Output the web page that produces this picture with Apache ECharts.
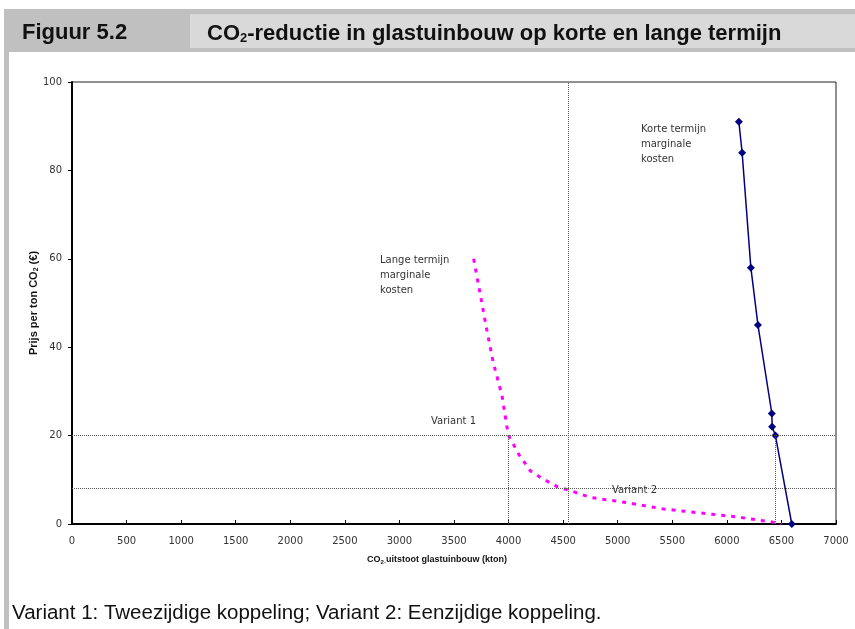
<!DOCTYPE html>
<html>
<head>
<meta charset="utf-8">
<script src="https://cdn.jsdelivr.net/npm/echarts@6/dist/echarts.min.js"></script>
<style>
  html, body { margin: 0; padding: 0; background: #fff; }
  #main { width: 855px; height: 629px; }
</style>
</head>
<body>
<div id="main"></div>
<script>
// korte termijn marginale kosten (kton, euro/ton)
var korteX = [6110, 6140, 6220, 6285, 6412, 6415, 6445, 6595];
var korteY = [91, 84, 58, 45, 25, 22, 20, 0];

// lange termijn marginale kosten
var langeX = [3680, 3740, 3800, 3860, 3940, 3985, 4000, 4100, 4200, 4300, 4450, 4560, 4750, 5040, 5420, 5720, 6090, 6400, 6500];
var langeY = [60, 52, 44, 36.5, 29, 22, 20, 15.5, 12, 10.4, 8.4, 7.6, 6, 5, 3.4, 2.6, 1.6, 0.5, 0];

// hulplijnen (varianten)
var refLines = [
    [[0, 20], [7000, 20]],
    [[0, 8], [7000, 8]],
    [[4550, 0], [4550, 100]],
    [[4000, 0], [4000, 20]],
    [[6440, 0], [6440, 20]]
];

var xTicks = { min: 0, max: 7000, step: 500 };
var yTicks = { min: 0, max: 100, step: 20 };

function pairs(xs, ys) {
    var res = [];
    for (var i = 0; i < xs.length; i++) res.push([xs[i], ys[i]]);
    return res;
}

var myChart = echarts.init(document.getElementById('main'));

var option = {
    animation: false,
    backgroundColor: '#fff',
    textStyle: { fontFamily: 'DejaVu Sans' },
    title: {
        left: 202,
        top: 17,
        text: '{t|CO}{s|2}{t|-reductie in glastuinbouw op korte en lange termijn}',
        textStyle: {
            rich: {
                t: { fontFamily: 'Liberation Sans', fontWeight: 'bold', fontSize: 22, color: '#111' },
                s: { fontFamily: 'Liberation Sans', fontWeight: 'bold', fontSize: 13, color: '#111', verticalAlign: 'bottom', padding: [10, 0, 0, 0] }
            }
        }
    },
    graphic: [
        { type: 'rect', left: 4, top: 9, z: -10, shape: { width: 851, height: 43 }, style: { fill: '#c0c0c0' } },
        { type: 'rect', left: 4, top: 52, z: -10, shape: { width: 5, height: 577 }, style: { fill: '#c0c0c0' } },
        { type: 'rect', left: 190, top: 14, z: -9, shape: { width: 665, height: 34 }, style: { fill: '#d9d9d9' } },
        { type: 'text', left: 22, top: 22, style: { text: 'Figuur 5.2', font: 'bold 22px "Liberation Sans"', fill: '#111' } },
        { type: 'text', left: 12, top: 603, style: { text: 'Variant 1: Tweezijdige koppeling; Variant 2: Eenzijdige koppeling.', font: '20.5px "Liberation Sans"', fill: '#111' } },
        { type: 'text', left: 641, top: 122, style: { text: 'Korte termijn\nmarginale\nkosten', font: '10px "DejaVu Sans"', fill: '#333', lineHeight: 15 } },
        { type: 'text', left: 380, top: 253, style: { text: 'Lange termijn\nmarginale\nkosten', font: '10px "DejaVu Sans"', fill: '#333', lineHeight: 15 } },
        { type: 'text', left: 431, top: 416, style: { text: 'Variant 1', font: '10px "DejaVu Sans"', fill: '#333' } },
        { type: 'text', left: 612, top: 485, style: { text: 'Variant 2', font: '10px "DejaVu Sans"', fill: '#333' } }
    ],
    grid: {
        left: 72,
        right: 19,
        top: 82,
        bottom: 105,
        show: true,
        borderColor: '#222',
        borderWidth: 1,
        backgroundColor: 'transparent'
    },
    xAxis: {
        type: 'value',
        min: xTicks.min,
        max: xTicks.max,
        interval: xTicks.step,
        name: '{t|CO}{s|2-}{t|uitstoot glastuinbouw (kton)}',
        nameLocation: 'middle',
        nameGap: 30,
        nameMoveOverlap: false,
        nameTextStyle: {
            padding: [0, 34, 0, 0],
            rich: {
                t: { fontFamily: 'Liberation Sans', fontWeight: 'bold', fontSize: 9, color: '#111' },
                s: { fontFamily: 'Liberation Sans', fontWeight: 'bold', fontSize: 6, color: '#111', verticalAlign: 'bottom', padding: [5, 0, 0, 0] }
            }
        },
        axisLine: { onZero: false, lineStyle: { color: '#000', width: 2 } },
        axisTick: { inside: true, length: 4, lineStyle: { color: '#000' } },
        axisLabel: {
            margin: 12, fontSize: 10, color: '#333', fontFamily: 'DejaVu Sans',
            formatter: function (v) { return String(v); }
        },
        splitLine: { show: false }
    },
    yAxis: {
        type: 'value',
        min: yTicks.min,
        max: yTicks.max,
        interval: yTicks.step,
        name: '{t|Prijs per ton CO}{s|2}{t| (€)}',
        nameLocation: 'middle',
        nameGap: 32,
        nameMoveOverlap: false,
        nameTextStyle: {
            rich: {
                t: { fontFamily: 'Liberation Sans', fontWeight: 'bold', fontSize: 11, color: '#111' },
                s: { fontFamily: 'Liberation Sans', fontWeight: 'bold', fontSize: 7, color: '#111', verticalAlign: 'bottom', padding: [5, 0, 0, 0] }
            }
        },
        axisLine: { onZero: false, lineStyle: { color: '#000', width: 2 } },
        axisTick: { length: 4, lineStyle: { color: '#000' } },
        axisLabel: { margin: 10, fontSize: 10, color: '#333', fontFamily: 'DejaVu Sans' },
        splitLine: { show: false }
    },
    series: [
        {
            name: 'hulplijnen',
            type: 'line',
            data: [],
            silent: true,
            markLine: {
                symbol: 'none',
                silent: true,
                label: { show: false },
                lineStyle: { color: '#555', type: [1, 1], width: 1 },
                data: refLines.map(function (l) {
                    return [{ coord: l[0] }, { coord: l[1] }];
                })
            }
        },
        {
            name: 'Lange termijn',
            type: 'line',
            data: pairs(langeX, langeY),
            showSymbol: false,
            symbol: 'none',
            lineStyle: { color: '#ff00ff', width: 3, type: [4, 6] },
            z: 3
        },
        {
            name: 'Korte termijn',
            type: 'line',
            data: pairs(korteX, korteY),
            symbol: 'diamond',
            symbolSize: 8,
            itemStyle: { color: '#000080' },
            lineStyle: { color: '#000080', width: 1.5 },
            z: 4
        }
    ]
};

myChart.setOption(option);
</script>
</body>
</html>
